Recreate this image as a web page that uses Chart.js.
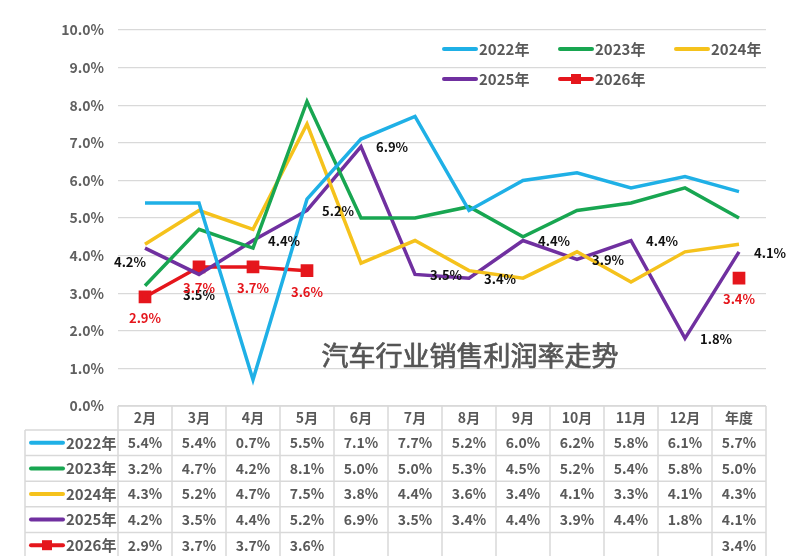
<!DOCTYPE html>
<html>
<head>
<meta charset="utf-8">
<script src="https://cdn.jsdelivr.net/npm/chart.js@4.4.0/dist/chart.umd.min.js"></script>
<style>
  html, body { margin: 0; padding: 0; background: #fff; }
  #wrap { width: 788px; height: 556px; }
</style>
</head>
<body>
<div id="wrap"><canvas id="chart" width="788" height="556"></canvas></div>
<script>
// ─── Data ─────────────────────────────────────────────────────────
const months = ['2月', '3月', '4月', '5月', '6月', '7月', '8月', '9月', '10月', '11月', '12月', '年度'];
const years = ['2022年', '2023年', '2024年', '2025年', '2026年'];
const s2022 = [5.4, 5.4, 0.7, 5.5, 7.1, 7.7, 5.2, 6.0, 6.2, 5.8, 6.1, 5.7];
const s2023 = [3.2, 4.7, 4.2, 8.1, 5.0, 5.0, 5.3, 4.5, 5.2, 5.4, 5.8, 5.0];
const s2024 = [4.3, 5.2, 4.7, 7.5, 3.8, 4.4, 3.6, 3.4, 4.1, 3.3, 4.1, 4.3];
const s2025 = [4.2, 3.5, 4.4, 5.2, 6.9, 3.5, 3.4, 4.4, 3.9, 4.4, 1.8, 4.1];
const s2026 = [2.9, 3.7, 3.7, 3.6, null, null, null, null, null, null, null, 3.4];
const yTicks = [0, 1, 2, 3, 4, 5, 6, 7, 8, 9, 10];
const title = '汽车行业销售利润率走势';

// where the 2025 labels sit around their point
const place2025 = ['bl', 'b', 'r', 'r', 'r', 'r', 'r', 'r', 'r', 'r', 'r', 'r'];

const FONT = '"Noto Sans CJK SC", "Noto Sans", sans-serif';
const GREY = '#595959';
const GRID = '#d9d9d9';
const colors = ['#1fb0e6', '#18a651', '#f5c21c', '#7030a0', '#e5161c'];

const fmt = v => v.toFixed(1) + '%';

// ─── Extra drawing: title, labels, legend, data table ─────────────
const extras = {
    id: 'extras',
    beforeDatasetsDraw(chart) {
        const { ctx } = chart;
        ctx.save();
        ctx.font = `27px ${FONT}`;
        ctx.fillStyle = '#555';
        ctx.strokeStyle = '#555';
        ctx.lineWidth = 0.7;
        ctx.textAlign = 'center';
        ctx.textBaseline = 'middle';
        ctx.fillText(title, 470, 356);
        ctx.strokeText(title, 470, 356); // a touch heavier, like a medium weight
        ctx.restore();
    },
    afterDatasetsDraw(chart) {
        const { ctx } = chart;
        const x = chart.scales.x, y = chart.scales.y;
        ctx.save();
        ctx.font = `bold 13px ${FONT}`;
        ctx.textBaseline = 'middle';

        // 2025 labels
        ctx.fillStyle = '#111';
        s2025.forEach((v, i) => {
            const px = x.getPixelForValue(i), py = y.getPixelForValue(v);
            const p = place2025[i];
            if (p === 'r') { ctx.textAlign = 'left'; ctx.fillText(fmt(v), px + 15, py + 1); }
            else if (p === 'b') { ctx.textAlign = 'center'; ctx.fillText(fmt(v), px, py + 21); }
            else { ctx.textAlign = 'center'; ctx.fillText(fmt(v), px - 15, py + 14); }
        });

        // 2026 labels
        ctx.fillStyle = colors[4];
        ctx.textAlign = 'center';
        s2026.forEach((v, i) => {
            if (v === null) return;
            ctx.fillText(fmt(v), x.getPixelForValue(i), y.getPixelForValue(v) + 21);
        });
        ctx.restore();
    },
    afterDraw(chart) {
        const { ctx } = chart;
        const x = chart.scales.x;
        const series = [s2022, s2023, s2024, s2025, s2026];
        ctx.save();

        // legend inside plot
        ctx.font = `bold 15px ${FONT}`;
        ctx.textBaseline = 'middle';
        ctx.textAlign = 'left';
        years.forEach((name, k) => {
            const lx = 442 + (k % 3) * 116;
            const ly = k < 3 ? 49 : 79;
            sample(ctx, lx, ly, k);
            ctx.fillStyle = GREY;
            ctx.fillText(name, lx + 37, ly);
        });

        // table grid
        const left = 25, col0 = chart.chartArea.left, right = chart.chartArea.right;
        const top = chart.chartArea.bottom, head = 430, rowH = 25.6;
        ctx.strokeStyle = GRID;
        ctx.lineWidth = 1.5;
        ctx.beginPath();
        ctx.moveTo(col0, top); ctx.lineTo(right, top);
        for (let r = 0; r <= years.length; r++) {
            const yy = head + r * rowH;
            ctx.moveTo(left, yy); ctx.lineTo(right, yy);
        }
        ctx.moveTo(left, head); ctx.lineTo(left, 556);
        const w = (right - col0) / months.length;
        for (let c = 0; c <= months.length; c++) {
            ctx.moveTo(col0 + c * w, top); ctx.lineTo(col0 + c * w, 556);
        }
        ctx.stroke();

        // header
        ctx.font = `bold 14px ${FONT}`;
        ctx.fillStyle = GREY;
        ctx.textAlign = 'center';
        months.forEach((m, i) => ctx.fillText(m, x.getPixelForValue(i), 418));

        // rows
        years.forEach((name, k) => {
            const ry = head + k * rowH + rowH / 2;
            sample(ctx, 29, ry, k);
            ctx.font = `bold 15px ${FONT}`;
            ctx.fillStyle = GREY;
            ctx.textAlign = 'left';
            ctx.fillText(name, 66, ry);
            ctx.font = `bold 14px ${FONT}`;
            ctx.textAlign = 'center';
            series[k].forEach((v, i) => {
                if (v === null) return;
                ctx.fillText(fmt(v), x.getPixelForValue(i), ry);
            });
        });
        ctx.restore();
    }
};

function sample(ctx, x0, y0, k) {
    ctx.save();
    ctx.strokeStyle = colors[k];
    ctx.lineWidth = 4;
    ctx.lineCap = 'round';
    ctx.beginPath();
    ctx.moveTo(x0 + 2, y0); ctx.lineTo(x0 + 34, y0);
    ctx.stroke();
    if (k === 4) {
        ctx.fillStyle = colors[k];
        ctx.fillRect(x0 + 13, y0 - 5, 10, 10);
    }
    ctx.restore();
}

// ─── Chart ────────────────────────────────────────────────────────
const line = (label, data, k, extra = {}) => Object.assign({
    label, data,
    borderColor: colors[k], backgroundColor: colors[k],
    borderWidth: 3.5, pointRadius: 0, tension: 0, clip: false,
}, extra);

new Chart(document.getElementById('chart'), {
    type: 'line',
    data: {
        labels: months,
        datasets: [
            line(years[0], s2022, 0),
            line(years[1], s2023, 1),
            line(years[2], s2024, 2),
            line(years[3], s2025, 3),
            line(years[4], s2026, 4, { pointRadius: 6.5, pointStyle: 'rect', spanGaps: false }),
        ],
    },
    options: {
        responsive: false,
        animation: false,
        layout: { padding: { top: 30, right: 22, bottom: 150, left: 0 } },
        plugins: { legend: { display: false }, tooltip: { enabled: false } },
        scales: {
            x: { type: 'category', offset: true, display: false },
            y: {
                min: 0, max: 10,
                afterFit(s) { s.width = 118; },
                afterBuildTicks(s) { s.ticks = yTicks.map(v => ({ value: v })); },
                border: { display: false },
                grid: { color: GRID, lineWidth: 1.3, drawTicks: false },
                ticks: { padding: 14, color: '#606060', font: { size: 14, family: FONT, weight: 'bold' }, callback: v => fmt(v) },
            },
        },
    },
    plugins: [extras],
});
</script>
</body>
</html>
